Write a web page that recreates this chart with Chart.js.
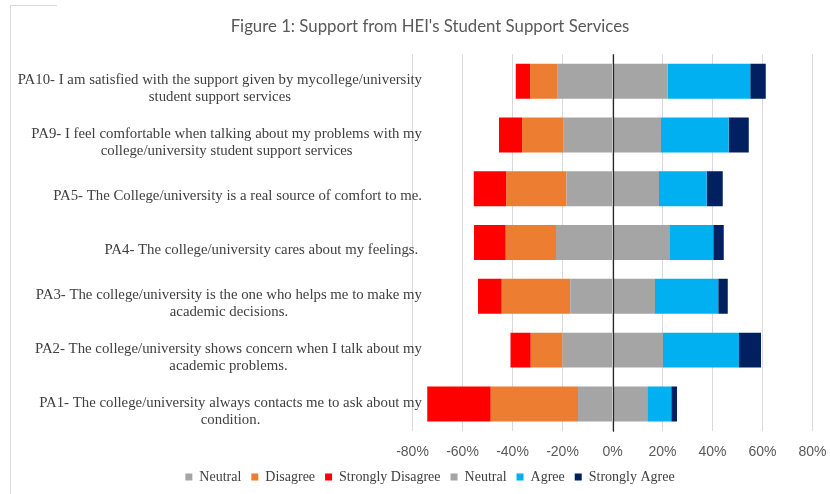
<!DOCTYPE html>
<html>
<head>
<meta charset="utf-8">
<script src="https://cdn.jsdelivr.net/npm/chart.js@4"></script>
<style>
  html, body { margin: 0; padding: 0; background: #fff; }
  #wrap { position: relative; width: 830px; height: 494px; }
  #frameLeft { position: absolute; left: 10px; top: 5px; width: 0; height: 489px; border-left: 1px solid #d9d9d9; }
  #frameTop { position: absolute; left: 10px; top: 5px; width: 47px; height: 0; border-top: 1px solid #d9d9d9; }
</style>
</head>
<body>
<div id="wrap">
  <canvas id="chart" width="830" height="494"></canvas>
  <div id="frameLeft"></div>
  <div id="frameTop"></div>
</div>
<script>
const categories = [
  ['PA10- I am satisfied with the support given by mycollege/university', 'student support services'],
  ['PA9- I feel comfortable when talking about my problems with my', 'college/university student support services'],
  ['PA5- The College/university is a real source of comfort to me.'],
  ['PA4- The college/university cares about my feelings. '],
  ['PA3- The college/university is the one who helps me to make my', 'academic decisions.'],
  ['PA2- The college/university shows concern when I talk about my', 'academic problems.'],
  ['PA1- The college/university always contacts me to ask about my', 'condition.']
];

// percentages; the left-hand series are negative so they stack to the left of 0
const neutralLeft = [-21.9, -19.5, -18.4, -22.6, -16.9, -20, -13.8];
const disagree = [-11.1, -16.7, -24, -20.1, -27.4, -12.7, -34.9];
const stronglyDisagree = [-5.7, -9.2, -13.1, -12.7, -9.5, -8.1, -25.4];
const neutralRight = [22.1, 19.4, 18.6, 22.7, 17, 20.2, 13.9];
const agree = [33, 27.1, 19.1, 17.6, 25.3, 30.4, 9.6];
const stronglyAgree = [6.2, 8, 6.4, 4.2, 3.8, 8.8, 2.3];

const xTicks = [-80, -60, -40, -20, 0, 20, 40, 60, 80];

const labelFont = '14.8px "Liberation Serif", "Times New Roman", serif';

// wrapped category labels: block right-aligned, lines centred inside the block
const categoryLabels = {
  id: 'categoryLabels',
  afterDraw(chart) {
    const { ctx, scales } = chart;
    const y = scales.y;
    const right = chart.chartArea.left + 9.5;
    const lineHeight = 16.5;
    ctx.save();
    ctx.font = labelFont;
    ctx.fillStyle = '#404040';
    ctx.textAlign = 'center';
    ctx.textBaseline = 'middle';
    categories.forEach((lines, i) => {
      const cy = y.getPixelForValue(i) + 7.5;
      const w = Math.max(...lines.map(l => ctx.measureText(l).width));
      const cx = right - w / 2;
      const top = cy - (lines.length - 1) * lineHeight / 2;
      lines.forEach((line, j) => ctx.fillText(line, cx, top + j * lineHeight));
    });
    ctx.restore();
  }
};

// zero line sits above the bars
const zeroLine = {
  id: 'zeroLine',
  afterDatasetsDraw(chart) {
    const { ctx, chartArea, scales } = chart;
    const x = Math.round(scales.x.getPixelForValue(0)) + 0.5;
    ctx.save();
    ctx.strokeStyle = '#262626';
    ctx.lineWidth = 1.2;
    ctx.beginPath();
    ctx.moveTo(x, chartArea.top);
    ctx.lineTo(x, chartArea.bottom + 1);
    ctx.stroke();
    ctx.restore();
  }
};

const bar = (label, data, color) => ({
  label,
  data,
  backgroundColor: color,
  borderWidth: 0,
  categoryPercentage: 0.65,
  barPercentage: 1
});

new Chart(document.getElementById('chart'), {
  type: 'bar',
  data: {
    labels: categories,
    datasets: [
      bar('Neutral', neutralLeft, '#a5a5a5'),
      bar('Disagree', disagree, '#ed7d31'),
      bar('Strongly Disagree', stronglyDisagree, '#ff0000'),
      bar('Neutral', neutralRight, '#a5a5a5'),
      bar('Agree', agree, '#00b0f0'),
      bar('Strongly Agree', stronglyAgree, '#002060')
    ]
  },
  options: {
    indexAxis: 'y',
    responsive: false,
    animation: false,
    layout: {
      padding: { left: 47.5, right: 17.5, top: 0, bottom: 0 }
    },
    plugins: {
      title: {
        display: true,
        text: "Figure 1: Support from HEI's Student Support Services",
        color: '#595959',
        font: { family: 'Lato, "Open Sans", sans-serif', size: 16.8, weight: 'normal' },
        padding: { top: 17, bottom: 17.1 }
      },
      legend: {
        position: 'bottom',
        labels: {
          boxWidth: 7,
          boxHeight: 7,
          padding: 10,
          color: '#404040',
          font: { family: '"Liberation Serif", "Times New Roman", serif', size: 14 }
        }
      },
      tooltip: { enabled: false }
    },
    scales: {
      x: {
        stacked: true,
        min: -80,
        max: 80,
        afterBuildTicks(scale) {
          scale.ticks = xTicks.map(v => ({ value: v }));
        },
        afterFit(scale) {
          scale.height = 29.2;
        },
        border: { display: false },
        grid: {
          color: '#d9d9d9',
          drawTicks: true,
          tickLength: 9.6,
          tickColor: 'rgba(0,0,0,0)'
        },
        ticks: {
          padding: 3,
          color: '#595959',
          font: { family: '"Liberation Sans", Arial, sans-serif', size: 14 },
          callback: v => v + '%'
        }
      },
      y: {
        stacked: true,
        border: { display: false },
        grid: { display: false },
        ticks: { display: false },
        afterFit(scale) {
          scale.width = 365;
        }
      }
    }
  },
  plugins: [categoryLabels, zeroLine]
});
</script>
</body>
</html>
